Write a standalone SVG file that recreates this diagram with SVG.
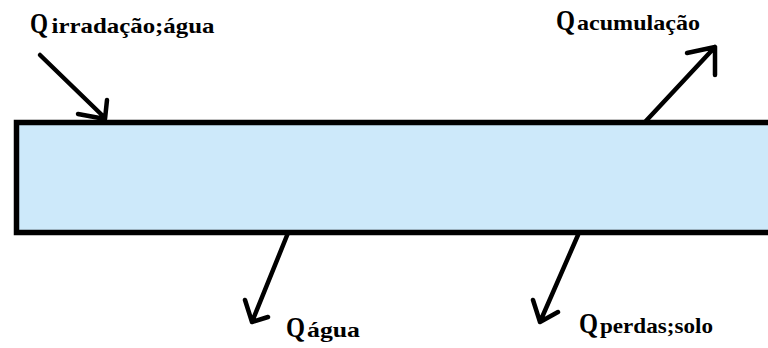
<svg xmlns="http://www.w3.org/2000/svg" width="768" height="348" viewBox="0 0 768 348">
<style>
.q{font-family:"Liberation Serif",serif;font-weight:bold;font-size:29px;fill:#000}
.s{font-family:"Liberation Serif",serif;font-weight:bold;font-size:22px;fill:#000}
.a{fill:none;stroke:#000;stroke-width:4.5;stroke-linecap:round;stroke-linejoin:round}
</style>
<rect width="768" height="348" fill="#fff"/>
<g id="corpo">
<rect x="16.5" y="122.5" width="770" height="110" fill="#cde9fa" stroke="#000" stroke-width="5.5"/>
</g>
<g id="connectors">
<path class="a" d="M40 55 L105 118 M107 100 L105 119 L78 114"/>
<path class="a" d="M645 122 L715 47 M687 53 L715 47 L715 75"/>
<path class="a" d="M288 233 L252 322 M245 300 L252 322 L268 317"/>
<path class="a" d="M578 235 L540 322 M533 300 L540 322 L558 312"/>
</g>
<g id="q-irradiacao">
<text class="q" x="30" y="33" textLength="18" lengthAdjust="spacingAndGlyphs">Q</text>
<text class="s" x="51.5" y="33" textLength="163" lengthAdjust="spacingAndGlyphs">irradação;água</text>
</g>
<g id="q-acumulacao">
<text class="q" x="556" y="30" textLength="19" lengthAdjust="spacingAndGlyphs">Q</text>
<text class="s" x="577" y="30" textLength="123" lengthAdjust="spacingAndGlyphs">acumulação</text>
</g>
<g id="q-agua">
<text class="q" x="286" y="337" textLength="19" lengthAdjust="spacingAndGlyphs">Q</text>
<text class="s" x="307" y="337" textLength="53" lengthAdjust="spacingAndGlyphs">água</text>
</g>
<g id="q-perdas">
<text class="q" x="579" y="333" textLength="19" lengthAdjust="spacingAndGlyphs">Q</text>
<text class="s" x="600" y="333" textLength="113" lengthAdjust="spacingAndGlyphs">perdas;solo</text>
</g>
</svg>
